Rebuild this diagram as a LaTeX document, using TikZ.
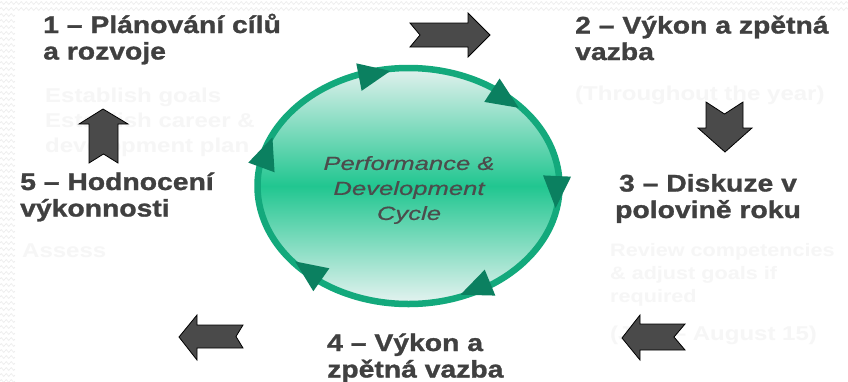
\documentclass[tikz,border=0pt]{standalone}
\usepackage{fontspec}
\setmainfont{Liberation Sans}
\newfontfamily\ttlfont[FakeStretch=1.18, FakeBold=1.2]{Liberation Sans}
\newfontfamily\fntfont[FakeStretch=1.2]{Liberation Sans}
\newfontfamily\cycfont[FakeStretch=1.35, FakeBold=0.6]{Liberation Sans}
\usetikzlibrary{shapes.geometric,decorations.pathmorphing}
\definecolor{titlegray}{HTML}{404040}
\definecolor{faintgray}{HTML}{F6F6F6}
\definecolor{arrowgray}{HTML}{4A4A4A}
\definecolor{ringgreen}{HTML}{13A97C}
\definecolor{ringdark}{HTML}{0B8060}
\definecolor{cyctop}{HTML}{E2F1EE}
\definecolor{cycmid}{HTML}{21C690}
\definecolor{cycbot}{HTML}{E6F3F1}
\definecolor{cyctext}{HTML}{4C4C4C}
\definecolor{texture}{HTML}{EDEDED}
\begin{document}
\begin{tikzpicture}[x=1pt,y=-1pt,
  title/.style={inner sep=0pt, anchor=base west, align=left, text=titlegray,
    font=\ttlfont\bfseries\fontsize{24}{26.5}\selectfont},
  faint/.style={inner sep=0pt, anchor=base west, align=left, text=faintgray,
    font=\fntfont\bfseries\fontsize{20}{25}\selectfont},
  blockarrow/.style={fill=arrowgray, draw=black, line width=0.8pt, line join=miter},
  ringhead/.style={fill=ringdark},
  zz/.style={texture, line width=0.6pt, decorate, decoration={zigzag, amplitude=1.5pt, segment length=5pt}}]
\fill[white] (0,0) rectangle (848,381);
\useasboundingbox (0,0) rectangle (848,381);
% background texture
\foreach \yy in {3,9} \draw[zz] (0,\yy) -- (848,\yy);
\foreach \yy in {15,21,...,381} \draw[zz] (0,\yy) -- (15,\yy);
% faint texts (base = last line)
\node[faint] (f1) at (45,152) {Establish goals\\Establish career \&\\development plan};
\node[faint] (f2) at (575,100) {(Throughout the year)};
\node[faint, font=\fntfont\bfseries\fontsize{18}{23}\selectfont] (f3) at (610,302) {Review competencies\\\& adjust goals if\\required};
\node[faint] (f4) at (610,340) {(July – August 15)};
\node[faint] (f5) at (22,257) {Assess};
% cycle
\node[ellipse, minimum width=302pt, minimum height=236pt, inner sep=0pt,
  draw=ringgreen, line width=6.5pt, top color=cyctop, bottom color=cycbot, middle color=cycmid]
  (cyc) at (408.5,186) {};
\node[align=center, inner sep=0pt, text=cyctext, font=\cycfont\itshape\fontsize{19}{25}\selectfont]
  (cyctxt) at (409,190) {Performance \&\\Development\\Cycle};
\foreach \t in {256,310,2,62.4,131.8,196} {
  \pgfmathsetmacro\px{408.5+148*cos(\t)}
  \pgfmathsetmacro\py{186+115*sin(\t)}
  \pgfmathsetmacro\dx{-151*sin(\t)}
  \pgfmathsetmacro\dy{118*cos(\t)}
  \pgfmathsetmacro\nn{veclen(\dx,\dy)}
  \pgfmathsetmacro\ux{\dx/\nn}
  \pgfmathsetmacro\uy{\dy/\nn}
  \fill[ringhead] (\px+18*\ux,\py+18*\uy) -- (\px-14*\ux-14*\uy,\py-14*\uy+14*\ux)
    -- (\px-14*\ux+14*\uy,\py-14*\uy-14*\ux) -- cycle;
}
% titles (base = last line)
\node[title] (t1) at (43,59.5) {1 – Plánování cílů\\a rozvoje};
\node[title] (t2) at (575,60) {2 – Výkon a zpětná\\vazba};
\node[title, anchor=base, align=center] (t3) at (708,218) {3 – Diskuze v\\polovině roku};
\node[title] (t4) at (327,377.5) {4 – Výkon a\\zpětná vazba};
\node[title] (t5) at (20,216.5) {5 – Hodnocení\\výkonnosti};
% block arrows
\draw[blockarrow] (410,23) -- (468,23) -- (468,13) -- (490,35) -- (468,57) -- (468,47) -- (410,47) -- (420,35) -- cycle;
\draw[blockarrow] (706,102) -- (724.5,114) -- (743,102) -- (743,128) -- (752,128) -- (725,152) -- (698,128) -- (706,128) -- cycle;
\draw[blockarrow] (685,324) -- (640,324) -- (640,315) -- (622,338) -- (640,360) -- (640,350) -- (685,350) -- (674,337) -- cycle;
\draw[blockarrow] (243,325) -- (197,325) -- (197,315) -- (179,337) -- (197,360) -- (197,348) -- (243,348) -- (236,336.5) -- cycle;
\draw[blockarrow] (89,163) -- (89,124) -- (79,124) -- (103,109) -- (128,124) -- (118,124) -- (118,163) -- (103.5,154) -- cycle;
\end{tikzpicture}
\end{document}
